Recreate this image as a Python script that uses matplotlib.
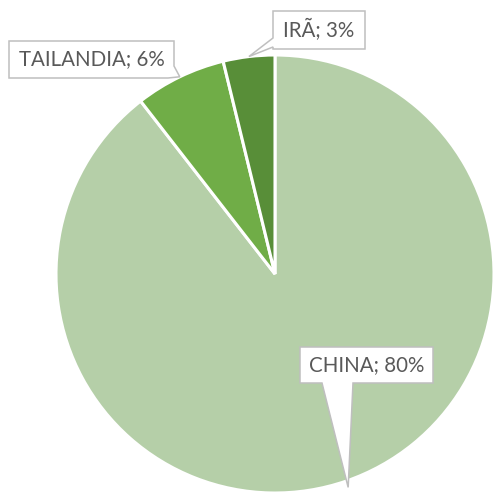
import matplotlib
matplotlib.use("Agg")
import matplotlib.pyplot as plt
from matplotlib.patches import Polygon
import numpy as np

# dados
countries = ["CHINA", "TAILANDIA", "IRÃ"]
shares = [80, 6, 3.4]
colors = ["#B5CFA8", "#70AD47", "#588E38"]

# layout (pixels of the 494x494 image)
W = H = 494
CX, CY, R = 275, 274, 219

# caixas dos rótulos: (left, top, right, bottom), lado do ponteiro, base do ponteiro, raio da ponta
label_boxes = {
    "CHINA": ((300, 347, 433, 383), "bottom", (322, 353), 1.03),
    "TAILANDIA": ((9, 41, 174, 78), "corner", (66, 168), 1.0),
    "IRÃ": ((273, 11, 365, 49), "left", (47, 38), 1.0),
}


def px(x, y):
    """pixel -> data"""
    return ((x - CX) / R, (CY - y) / R)


fig = plt.figure(figsize=(W / 100, H / 100), dpi=100)
ax = fig.add_axes([0, 0, 1, 1])

wedges, _ = ax.pie(
    shares, colors=colors, startangle=90, counterclock=False, radius=1,
    wedgeprops={"edgecolor": "white", "linewidth": 2.2},
)

ax.set_xlim(-CX / R, (W - CX) / R)
ax.set_ylim(-(H - CY) / R, CY / R)
ax.set_aspect("equal")
ax.axis("off")

# rótulos com ponteiro até o meio de cada fatia
for w, name, val in zip(wedges, countries, shares):
    box, side, base, rad = label_boxes[name]
    mid = np.deg2rad((w.theta1 + w.theta2) / 2)
    tip = (CX + rad * R * np.cos(mid), CY - rad * R * np.sin(mid))
    l, t, r, b = box
    if side == "bottom":
        pts = [(l, t), (r, t), (r, b), (base[1], b), tip, (base[0], b), (l, b)]
    elif side == "left":
        pts = [(l, t), (r, t), (r, b), (l, b), (l, base[0]), tip, (l, base[1])]
    else:
        pts = [(l, t), (r, t), (r, base[0]), tip, (base[1], b), (l, b)]
    ax.add_patch(
        Polygon([px(*p) for p in pts], closed=True, facecolor="white",
                edgecolor="#BFBFBF", linewidth=1.1, zorder=5)
    )
    tx, ty = px((l + r) / 2, (t + b) / 2)
    ax.text(tx, ty, f"{name}; {val:.0f}%", ha="center", va="center",
            fontsize=14.8, color="#595959", family="Lato", zorder=6)

fig.savefig("out.png", dpi=100)
